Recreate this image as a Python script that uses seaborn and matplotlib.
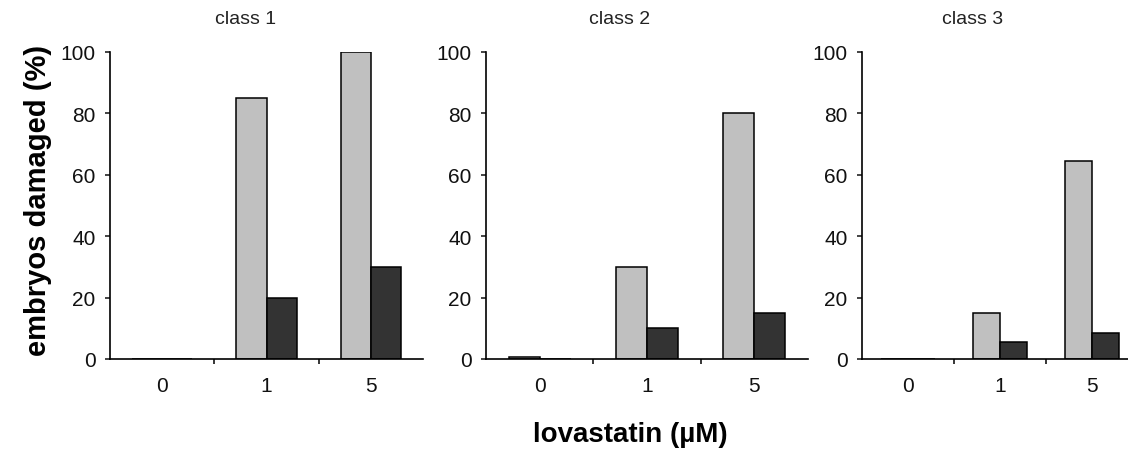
import matplotlib
matplotlib.use("Agg")
import matplotlib.pyplot as plt
import seaborn as sns
import pandas as pd
from matplotlib.ticker import FixedLocator

doses = ["0", "1", "5"]
panels = ["class 1", "class 2", "class 3"]
series = ["light", "dark"]
light_vals = {
    "class 1": [0, 85, 100],
    "class 2": [0.5, 30, 80],
    "class 3": [0, 15, 64.5],
}
dark_vals = {
    "class 1": [0, 20, 30],
    "class 2": [0, 10, 15],
    "class 3": [0, 5.5, 8.5],
}
yticks = [0, 20, 40, 60, 80, 100]

rows = []
for p in panels:
    for d, lv, dv in zip(doses, light_vals[p], dark_vals[p]):
        rows.append({"panel": p, "dose": d, "series": "light", "value": lv})
        rows.append({"panel": p, "dose": d, "series": "dark", "value": dv})
df = pd.DataFrame(rows)

sns.set_style("ticks")
plt.rcParams["font.family"] = ["Liberation Sans", "DejaVu Sans"]
plt.rcParams["text.color"] = "black"
plt.rcParams["axes.edgecolor"] = "black"

W, H = 1128, 456
fig = plt.figure(figsize=(W / 100, H / 100), dpi=100)

# pixel boxes: (left, right)
boxes = [(110, 423), (486, 808), (862, 1138)]
top_px, bot_px = 53, 360
title_x = [246, 620, 973]

for i, p in enumerate(panels):
    l, r = boxes[i]
    ax = fig.add_axes([l / W, 1 - bot_px / H, (r - l) / W, (bot_px - top_px) / H])
    sns.barplot(data=df[df.panel == p], x="dose", y="value", hue="series",
                order=doses, hue_order=series,
                palette=["#c0c0c0", "#333333"], width=0.58,
                edgecolor="black", linewidth=1.1, errorbar=None,
                legend=False, ax=ax, zorder=2)
    ax.set_xlim(-0.5, 2.5)
    ax.set_ylim(0, 100)
    ax.set_yticks(yticks)
    ax.set_yticklabels([str(t) for t in yticks])
    ax.xaxis.set_minor_locator(FixedLocator([0.5, 1.5]))
    ax.tick_params(axis="x", which="major", length=0, pad=12, labelsize=15, colors="#111111")
    ax.tick_params(axis="x", which="minor", length=3.5, width=1.1, direction="out", color="black")
    ax.tick_params(axis="y", length=3.5, width=1.1, pad=7, labelsize=15, colors="#111111")
    ax.set_xlabel("")
    ax.set_ylabel("")
    for s in ["top", "right"]:
        ax.spines[s].set_visible(False)
    for s in ["left", "bottom"]:
        ax.spines[s].set_linewidth(1.2)
        ax.spines[s].set_color("black")
        ax.spines[s].set_zorder(3)
    fig.text(title_x[i] / W, 1 - 20 / H, p, ha="center", va="center", fontsize=14, color="#222222")

fig.text(38 / W, 1 - 200 / H, "embryos damaged (%)", rotation=90, ha="center", va="center",
         fontsize=21, fontweight="bold", color="black")
fig.text(630 / W, 1 - 435 / H, "lovastatin (\u00b5M)", ha="center", va="center",
         fontsize=20, fontweight="bold", color="black")

fig.savefig("out.png", dpi=100)
